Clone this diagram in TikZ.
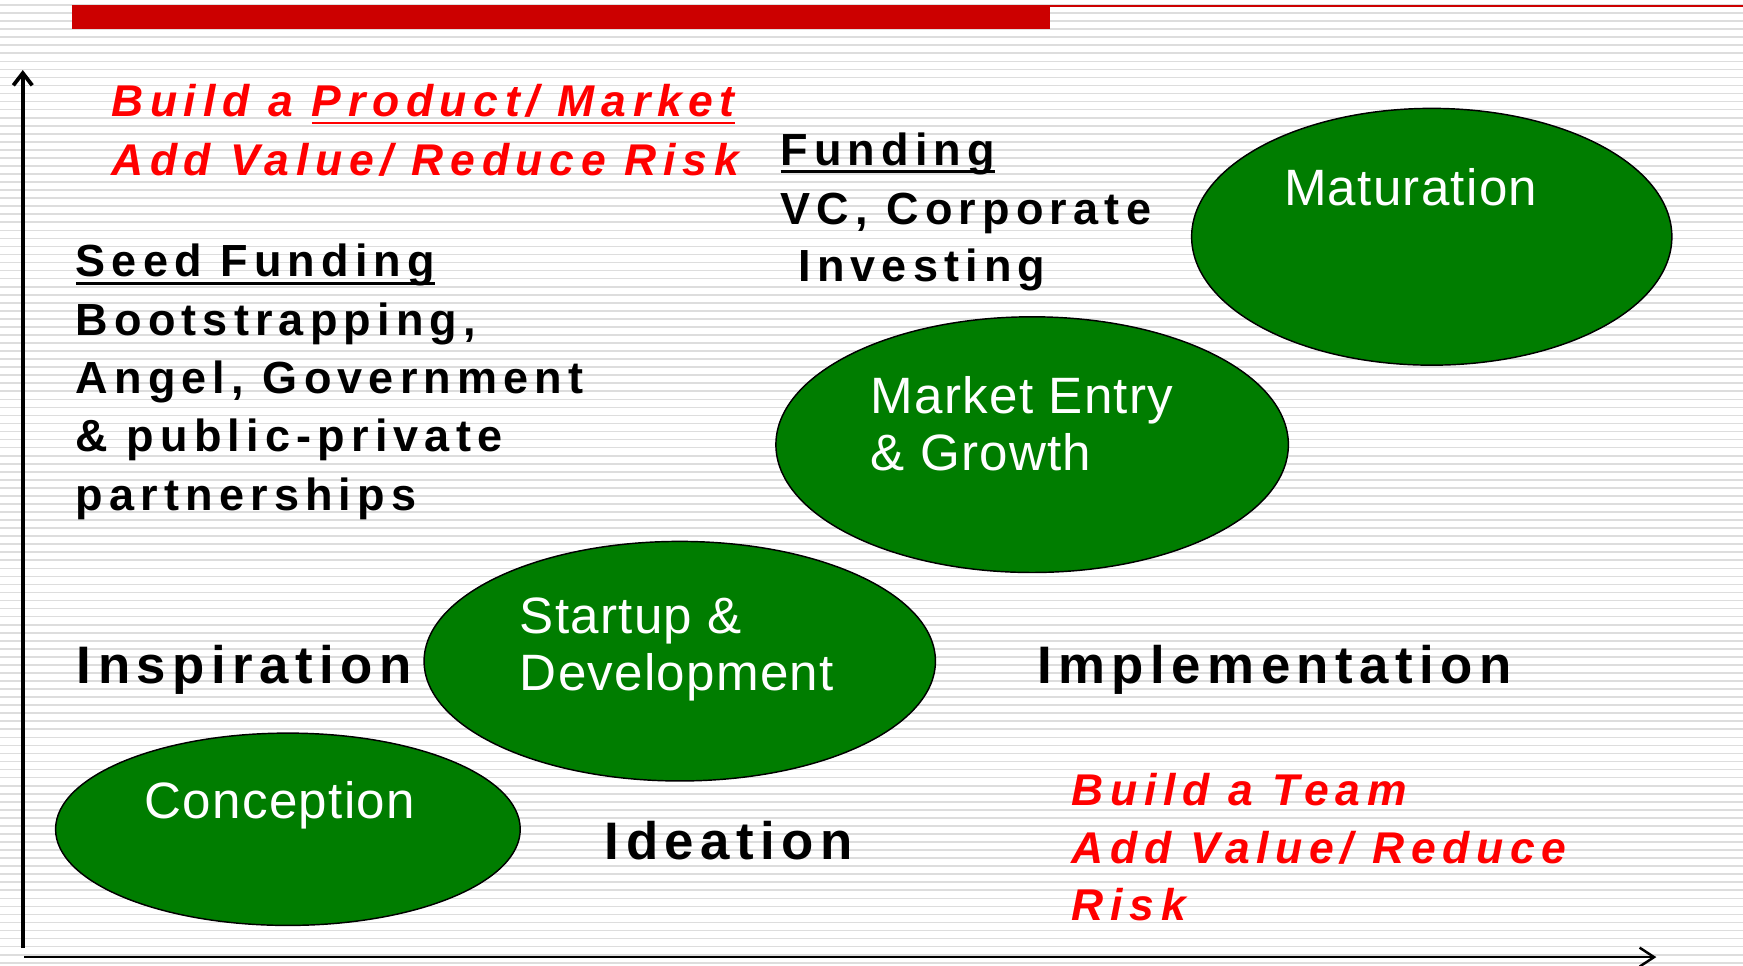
\documentclass[tikz,border=0pt]{standalone}
\usepackage{fontspec}
\setmainfont{Liberation Sans}
\newfontfamily\spacedfont[LetterSpace=12.3]{Liberation Sans}
\newfontfamily\fundfont[LetterSpace=13.7]{Liberation Sans}
\newfontfamily\goalfont[LetterSpace=15]{Liberation Sans}
\newfontfamily\slightfont[LetterSpace=2.5]{Liberation Sans}
\usetikzlibrary{shapes.geometric,arrows.meta}
\definecolor{phasegreen}{RGB}{0,125,0}
\definecolor{barred}{RGB}{204,0,0}
\definecolor{textred}{RGB}{255,0,0}
\definecolor{bgrulecol}{RGB}{221,221,221}
\newsavebox{\ulbox}
\newcommand{\myul}[1]{\sbox{\ulbox}{#1}\rlap{\rule[-7pt]{\wd\ulbox}{2.4pt}}\usebox{\ulbox}}
\begin{document}
\begin{tikzpicture}[x=1pt,y=-1pt,
  bgrule/.style={draw=bgrulecol,line width=1.5pt},
  axis/.style={draw=black,line cap=butt},
  phase/.style={ellipse,draw=black,line width=1.3pt,fill=phasegreen,inner sep=0pt},
  txt/.style={anchor=base west,inner sep=0pt},
  stage/.style={txt,font=\spacedfont\bfseries\fontsize{47.5}{57}\selectfont,text=black},
  fund/.style={txt,font=\fundfont\bfseries\fontsize{40.5}{52}\selectfont,text=black},
  goal/.style={txt,font=\goalfont\bfseries\itshape\fontsize{40}{52}\selectfont,text=textred},
  phasetext/.style={txt,font=\slightfont\fontsize{46}{52}\selectfont,text=white}]
\useasboundingbox (0,0) rectangle (1568,869);
\fill[white] (0,0) rectangle (1568,869);
\foreach \i in {0,...,119} \draw[bgrule] (0,{4.5+7.24*\i}) -- (1568,{4.5+7.24*\i});
% red header bar
\fill[barred] (65,4.5) rectangle (945,26);
\fill[barred] (945,4.5) rectangle (1568,6.2);
% axes
\coordinate (yorig) at (20.5,853);
\coordinate (ytop) at (20.5,63);
\coordinate (xorig) at (22,861);
\coordinate (xend) at (1490,861);
\draw[axis,line width=3.4pt,-{Straight Barb[length=11pt,width=17pt,line width=3.4pt]}] (yorig) -- (ytop);
\draw[axis,line width=2.2pt,-{Straight Barb[length=13pt,width=17pt,line width=2.2pt]}] (xorig) -- (xend);
% phases
\node[phase,minimum width=418pt,minimum height=173pt] (conception) at (259,746) {};
\node[phase,minimum width=460pt,minimum height=215.5pt] (startup) at (611.5,594.8) {};
\node[phase,minimum width=461pt,minimum height=230pt] (market) at (928.5,400) {};
\node[phase,minimum width=432pt,minimum height=231pt] (maturation) at (1288,213) {};
\node[phasetext] (tconception) at (130,736.5) {Conception};
\node[phasetext] (tstartup1) at (467.5,570) {Startup \&};
\node[phasetext] (tstartup2) at (467.5,621.6) {Development};
\node[phasetext] (tmarket1) at (783,372) {Market Entry};
\node[phasetext] (tmarket2) at (783,423.5) {\& Growth};
\node[phasetext] (tmaturation) at (1155,184.5) {Maturation};
% stage labels
\node[stage] (inspiration) at (69,615) {Inspiration};
\node[stage] (ideation) at (544,773.4) {Ideation};
\node[stage] (implementation) at (933,615) {Implementation};
% seed funding
\node[fund] (seed1) at (68,249) {\myul{Seed Funding}};
\node[fund] (seed2) at (68,301.5) {Bootstrapping,};
\node[fund] (seed3) at (68,354) {Angel, Government};
\node[fund] (seed4) at (68,406.5) {\& public-private};
\node[fund] (seed5) at (68,459) {partnerships};
% funding
\node[fund] (fund1) at (702,148.5) {\myul{Funding}};
\node[fund] (fund2) at (702,201.6) {VC, Corporate};
\node[fund] (fund3) at (718,253.5) {Investing};
% red goals
\node[goal] (goaltop1) at (100,105) {Build a \myul{Product/ Market}};
\node[goal] (goaltop2) at (100,157.5) {Add Value/ Reduce Risk};
\node[goal] (goalbot1) at (964,724.5) {Build a Team};
\node[goal] (goalbot2) at (964,777) {Add Value/ Reduce};
\node[goal] (goalbot3) at (964,828) {Risk};
\end{tikzpicture}
\end{document}
